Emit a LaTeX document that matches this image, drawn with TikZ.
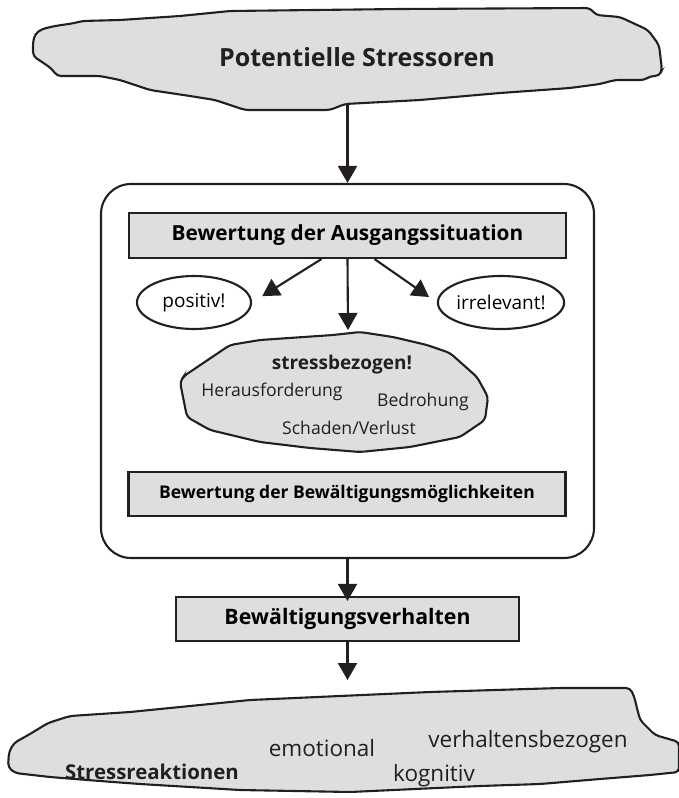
\documentclass[tikz,border=0pt]{standalone}
\usepackage{fontspec}
\setmainfont{Open Sans}
\usetikzlibrary{arrows.meta, shapes.geometric, positioning}

\definecolor{cloudgray}{RGB}{221,222,224}
\definecolor{ink}{RGB}{35,31,32}

\begin{document}
\begin{tikzpicture} [x = 1pt, y = -1pt, line width = 2.1pt, draw = ink,
    box/.style = {draw = ink, fill = cloudgray, inner sep = 0pt},
    oval/.style = {draw = ink, ellipse, inner sep = 0pt, font = \fontsize{19}{21}\selectfont},
    cloud/.style = {draw = ink, fill = cloudgray, rounded corners = 4pt},
    word/.style = {inner sep = 0pt, text = ink},
    arr/.style = {-{Triangle[width = 19pt, length = 17pt]}}]
    \useasboundingbox (0,0) rectangle (679,798);

    % Potentielle Stressoren
    \draw [cloud] (33,42) -- (35,34) -- (42,29) -- (55,26) -- (75,23) -- (82,21) -- (120,20)
        -- (180,16) -- (230,11) -- (400,9) -- (590,8) -- (596,15) -- (620,17) -- (648,30)
        -- (659,45) -- (662,70) -- (659,76) -- (650,76) -- (645,80) -- (615,80) -- (600,84)
        -- (570,88) -- (500,93) -- (420,100) -- (345,104) -- (330,110) -- (245,110)
        -- (215,100) -- (190,96) -- (150,90) -- (120,80) -- (100,76) -- (57,76) -- (52,69)
        -- (45,64) -- (33,56) -- cycle;
    \node (stressoren) [word, font = \bfseries\fontsize{25}{27}\selectfont] at (357,57) {Potentielle Stressoren};
    \coordinate (stressoren-bottom) at (347.5,105);

    % Bewertung
    \node (bewertung) [draw = ink, rounded corners = 30pt, minimum width = 493pt,
        minimum height = 374pt] at (347.5,371) {};
    \node (ausgang) [box, minimum width = 437pt, minimum height = 45pt,
        font = \bfseries\fontsize{20.8}{22}\selectfont] at (347.5,235.5) {Bewertung der Ausgangssituation};
    \node (positiv) [oval, minimum width = 114pt, minimum height = 53pt] at (194,302.5) {positiv!};
    \node (irrelevant) [oval, minimum width = 116pt, minimum height = 53pt] at (501,302.5) {irrelevant!};

    \draw [cloud] (180,382) -- (184,376) -- (230,345) -- (260,340) -- (333,335) -- (360,332)
        -- (393,337) -- (427,345) -- (450,353) -- (477,377) -- (488,397) -- (485,420)
        -- (460,437) -- (410,447) -- (360,452) -- (310,448) -- (260,442) -- (210,430)
        -- (187,417) -- cycle;
    \coordinate (stressbez-top) at (348,330);
    \node (stressbez) [word, font = \bfseries\fontsize{19}{21}\selectfont] at (342,365) {stressbezogen!};
    \node (herausf) [word, font = \fontsize{17.6}{19}\selectfont] at (272,392) {Herausforderung};
    \node (bedrohung) [word, font = \fontsize{17.6}{19}\selectfont] at (423,402) {Bedrohung};
    \node (schaden) [word, font = \fontsize{17.6}{19}\selectfont] at (349,428) {Schaden/Verlust};

    \node (moeglich) [box, minimum width = 437pt, minimum height = 44pt,
        font = \bfseries\fontsize{17.5}{19}\selectfont] at (347,494) {Bewertung der Bewältigungsmöglichkeiten};

    % Bewaeltigung
    \node (verhalten) [box, minimum width = 343pt, minimum height = 44pt,
        font = \bfseries\fontsize{21.3}{23}\selectfont] at (347.5,619) {Bewältigungsverhalten};

    % Stressreaktionen
    \draw [cloud] (9,752) -- (14,743) -- (30,734) -- (48,723) -- (70,716) -- (130,712)
        -- (200,705) -- (250,700) -- (430,692) -- (560,688) -- (630,688) -- (634,696)
        -- (640,720) -- (655,735) -- (679,742) -- (679,772) -- (650,775) -- (600,779)
        -- (540,784) -- (480,786) -- (350,792) -- (240,790) -- (140,784) -- (100,781)
        -- (50,777) -- (15,773) -- (8,767) -- cycle;
    \coordinate (reaktionen-top) at (347.5,680);
    \node (reaktionen) [word, font = \bfseries\fontsize{20.4}{22}\selectfont] at (152,772) {Stressreaktionen};
    \node (emotional) [word, font = \fontsize{22.5}{24}\selectfont] at (322,748) {emotional};
    \node (verhaltensb) [word, font = \fontsize{22.5}{24}\selectfont] at (528,742) {verhaltensbezogen};
    \node (kognitiv) [word, font = \fontsize{22.5}{24}\selectfont] at (434,776) {kognitiv};

    \path [arr]
    (stressoren-bottom) edge (bewertung.north)
    ([xshift = -26pt]ausgang.south) edge [shorten > = 12pt] (positiv.east)
    (ausgang.south) edge (stressbez-top)
    ([xshift = 27pt]ausgang.south) edge [shorten > = 9.5pt] (irrelevant.west)
    (bewertung.south) edge ([yshift = -5pt]verhalten.north)
    (verhalten.south) edge (reaktionen-top);
\end{tikzpicture}
\end{document}
